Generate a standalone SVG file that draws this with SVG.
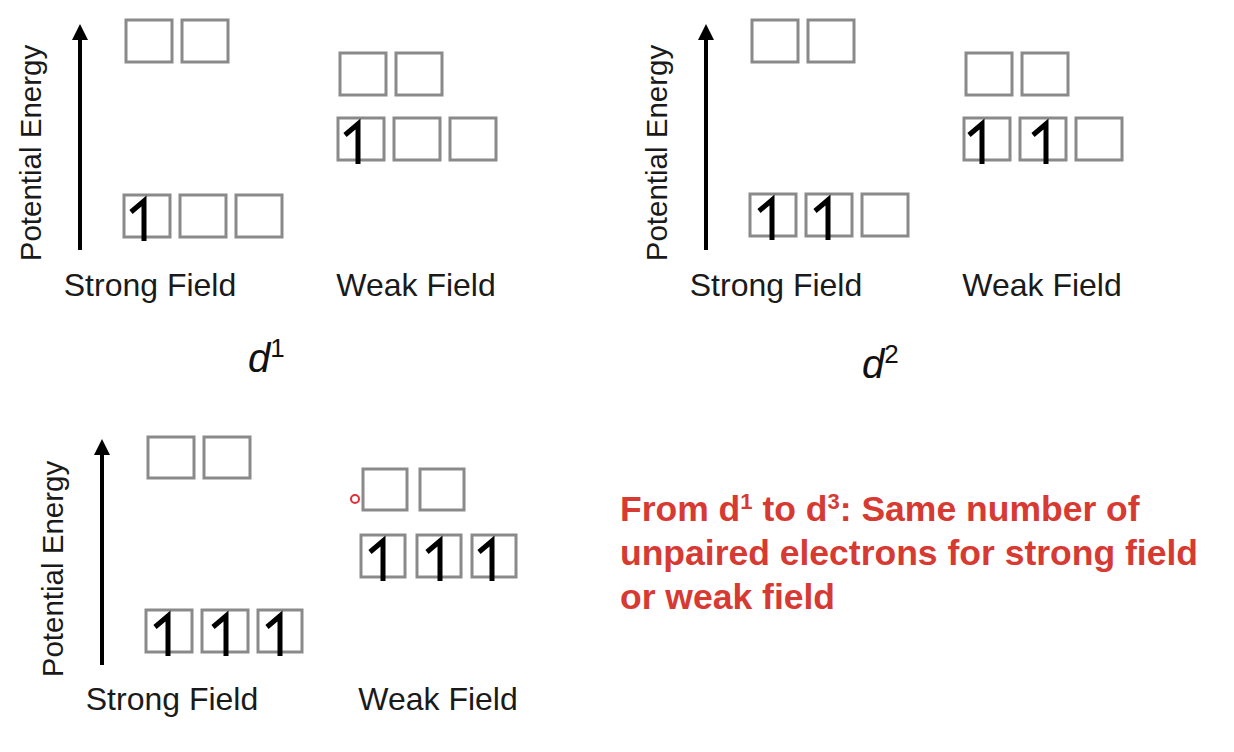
<svg xmlns="http://www.w3.org/2000/svg" width="1234" height="752" viewBox="0 0 1234 752">
<defs>
<style>
.b{fill:#fff;stroke:#8a8a8a;stroke-width:3}
.t{font-family:"Liberation Sans",Arial,sans-serif;font-size:32px;fill:#1a1a1a}
.p{font-family:"Liberation Sans",Arial,sans-serif;font-size:29.5px;fill:#1a1a1a}
.ax{stroke:#000;stroke-width:4}
.e{fill:none;stroke:#000;stroke-width:5;stroke-linejoin:miter}
.r{font-family:"Liberation Sans",Arial,sans-serif;font-size:35.5px;font-weight:bold;fill:#d63a32}
</style>
<marker id="ah" viewBox="0 0 10 10" refX="5" refY="5" markerWidth="4" markerHeight="4" orient="auto"><path d="M0,0L10,5L0,10z" fill="#000"/></marker>
<path id="el" d="M7,17L20,6L20,46" />
</defs>
<rect width="1234" height="752" fill="#fff"/>
<g id="connectors">
<line class="ax" x1="80" y1="250" x2="80" y2="32" marker-end="url(#ah)"/>
<line class="ax" x1="706" y1="250" x2="706" y2="32" marker-end="url(#ah)"/>
<line class="ax" x1="102" y1="665" x2="102" y2="447" marker-end="url(#ah)"/>
</g>
<g id="panel1">
<text class="p" transform="translate(41,153) rotate(-90)" text-anchor="middle">Potential Energy</text>
<rect class="b" x="126" y="20" width="46" height="42"/><rect class="b" x="182" y="20" width="46" height="42"/>
<rect class="b" x="124" y="195" width="46" height="42"/><rect class="b" x="180" y="195" width="46" height="42"/><rect class="b" x="236" y="195" width="46" height="42"/>
<rect class="b" x="340" y="53" width="46" height="42"/><rect class="b" x="396" y="53" width="46" height="42"/>
<rect class="b" x="338" y="118" width="46" height="42"/><rect class="b" x="394" y="118" width="46" height="42"/><rect class="b" x="450" y="118" width="46" height="42"/>
<use href="#el" class="e" x="124" y="195"/>
<use href="#el" class="e" x="338" y="118"/>
<text class="t" x="150" y="296" text-anchor="middle">Strong Field</text>
<text class="t" x="416" y="296" text-anchor="middle">Weak Field</text>
<text x="248" y="372" font-family="Liberation Sans,Arial,sans-serif" font-size="40" font-style="italic" fill="#111">d<tspan font-style="normal" font-size="26" dy="-15">1</tspan></text>
</g>
<g id="panel2">
<text class="p" transform="translate(667,153) rotate(-90)" text-anchor="middle">Potential Energy</text>
<rect class="b" x="752" y="20" width="46" height="42"/><rect class="b" x="808" y="20" width="46" height="42"/>
<rect class="b" x="750" y="194" width="46" height="42"/><rect class="b" x="806" y="194" width="46" height="42"/><rect class="b" x="862" y="194" width="46" height="42"/>
<rect class="b" x="966" y="53" width="46" height="42"/><rect class="b" x="1022" y="53" width="46" height="42"/>
<rect class="b" x="964" y="118" width="46" height="42"/><rect class="b" x="1020" y="118" width="46" height="42"/><rect class="b" x="1076" y="118" width="46" height="42"/>
<use href="#el" class="e" x="752" y="194"/><use href="#el" class="e" x="808" y="194"/>
<use href="#el" class="e" x="962" y="118"/><use href="#el" class="e" x="1026" y="118"/>
<text class="t" x="776" y="296" text-anchor="middle">Strong Field</text>
<text class="t" x="1042" y="296" text-anchor="middle">Weak Field</text>
<text x="862" y="378" font-family="Liberation Sans,Arial,sans-serif" font-size="40" font-style="italic" fill="#111">d<tspan font-style="normal" font-size="26" dy="-15">2</tspan></text>
</g>
<g id="panel3">
<text class="p" transform="translate(63,569) rotate(-90)" text-anchor="middle">Potential Energy</text>
<rect class="b" x="148" y="437" width="46" height="41"/><rect class="b" x="204" y="437" width="46" height="41"/>
<rect class="b" x="146" y="610" width="46" height="42"/><rect class="b" x="202" y="610" width="46" height="42"/><rect class="b" x="258" y="610" width="44" height="42"/>
<rect class="b" x="363" y="469" width="44" height="41"/><rect class="b" x="420" y="469" width="44" height="41"/>
<rect class="b" x="361" y="535" width="44" height="42"/><rect class="b" x="417" y="535" width="44" height="42"/><rect class="b" x="472" y="535" width="44" height="42"/>
<use href="#el" class="e" x="148" y="610"/><use href="#el" class="e" x="206" y="610"/><use href="#el" class="e" x="260" y="610"/>
<use href="#el" class="e" x="363" y="535"/><use href="#el" class="e" x="420" y="535"/><use href="#el" class="e" x="472" y="535"/>
<circle cx="355" cy="499" r="4" fill="none" stroke="#e0303a" stroke-width="2"/>
<text class="t" x="172" y="710" text-anchor="middle">Strong Field</text>
<text class="t" x="438" y="710" text-anchor="middle">Weak Field</text>
</g>
<g id="note">
<text class="r" x="620" y="521">From d<tspan font-size="22" dy="-12">1</tspan><tspan dy="12"> to d</tspan><tspan font-size="22" dy="-12">3</tspan><tspan dy="12">: Same number of</tspan></text>
<text class="r" x="620" y="565">unpaired electrons for strong field</text>
<text class="r" x="620" y="609">or weak field</text>
</g>
</svg>
